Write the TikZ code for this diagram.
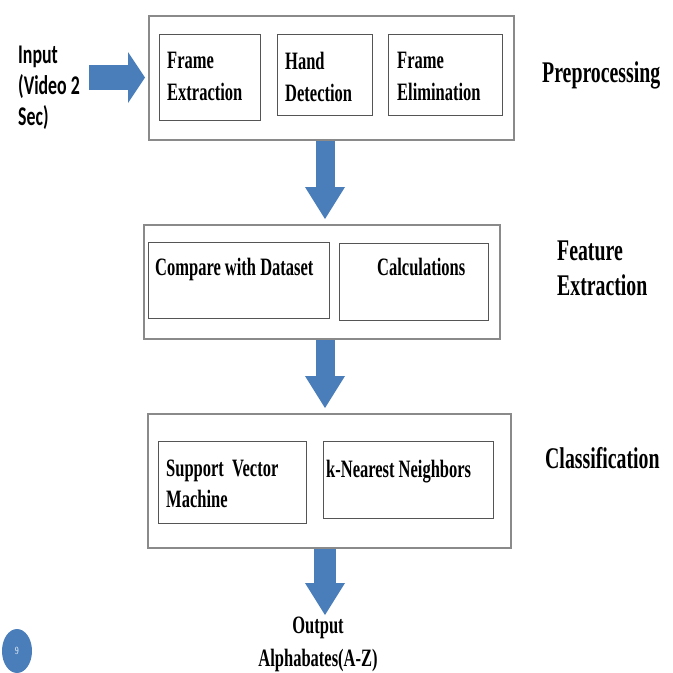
\documentclass[tikz,border=0pt]{standalone}
\usepackage{fontspec}
\setmainfont{Liberation Serif}[FakeStretch=0.66]
\newfontfamily\ingresso{Carlito}[FakeStretch=0.66]
\usepackage{tikz}
\usetikzlibrary{arrows.meta,shapes.geometric}
\definecolor{blu}{HTML}{4A7EBB}
\definecolor{grigio}{HTML}{8A8A8A}
\definecolor{grigioscuro}{HTML}{555555}

\tikzset{
    fase/.style={draw=grigio, line width=1.6pt, anchor=north west, inner sep=0pt},
    blocco/.style={draw=grigioscuro, line width=1.3pt, anchor=north west, inner sep=0pt},
    testo/.style={anchor=north west, inner sep=0pt, align=left,
        font=\fontsize{25}{32}\selectfont\bfseries},
    etichetta/.style={anchor=base west, inner sep=0pt, align=left,
        font=\fontsize{30}{35}\selectfont\bfseries},
    freccia/.style={blu, line width=19pt,
        -{Triangle[width=40pt, length=32pt, line width=0pt]}}
}

\begin{document}
\begin{tikzpicture}[x=1pt, y=-1pt]
        \useasboundingbox (0,0) rectangle (673,673);
        % Riquadri delle tre fasi
        \node[fase, minimum width=365pt, minimum height=124pt] (pre) at (148,15) {};
        \node[fase, minimum width=356pt, minimum height=114pt] (feat) at (143,224) {};
        \node[fase, minimum width=363pt, minimum height=134pt] (cla) at (147,413) {};
        % Blocchi interni: preprocessing
        \node[blocco, minimum width=101pt, minimum height=86pt] (fext) at (159,34) {};
        \node[blocco, minimum width=95pt, minimum height=81pt] (hand) at (277,34) {};
        \node[blocco, minimum width=114pt, minimum height=81pt] (felim) at (388,34) {};
        \node[testo] (tfext) at ([xshift=8pt, yshift=-18pt]fext.north west) {Frame\\Extraction};
        \node[testo] (thand) at ([xshift=8pt, yshift=-18pt]hand.north west) {Hand\\Detection};
        \node[testo] (tfelim) at ([xshift=9pt, yshift=-18pt]felim.north west) {Frame\\Elimination};
        % Blocchi interni: feature extraction
        \node[blocco, minimum width=181pt, minimum height=76pt] (cmp) at (148,242) {};
        \node[blocco, minimum width=149pt, minimum height=77pt] (calc) at (339,243) {};
        \node[testo] (tcmp) at ([xshift=7pt, yshift=-16pt]cmp.north west) {Compare with Dataset};
        \node[testo] (tcalc) at ([xshift=38pt, yshift=-15pt]calc.north west) {Calculations};
        % Blocchi interni: classificazione
        \node[blocco, minimum width=148pt, minimum height=82pt] (svm) at (158,441) {};
        \node[blocco, minimum width=170pt, minimum height=77pt] (knn) at (323,441) {};
        \node[testo, font=\fontsize{25}{31}\selectfont\bfseries] (tsvm) at ([xshift=8pt, yshift=-19pt]svm.north west) {Support~~Vector\\Machine};
        \node[testo] (tknn) at ([xshift=3pt, yshift=-19pt]knn.north west) {k-Nearest Neighbors};
        % Etichette delle fasi (base = ultima riga)
        \node[etichetta] (lpre) at (542,82) {Preprocessing};
        \node[etichetta] (lfeat) at (557,295) {Feature\\Extraction};
        \node[etichetta] (lcla) at (545,468) {Classification};
        % Ingresso e uscita
        \node[anchor=base west, inner sep=0pt, align=left,
            font=\fontsize{27}{31}\ingresso\bfseries] (inp) at (18,125) {Input\\(Video 2\\Sec)};
        \node[anchor=north, inner sep=0pt, align=center,
            font=\fontsize{25}{33}\selectfont\bfseries] (out) at (318,617) {Output\\Alphabates(A-Z)};
        % Frecce
        \coordinate (asse) at (325,0);
        \coordinate (inarr) at (89,77.5);
        \draw[freccia, line width=25pt, -{Triangle[width=51pt, length=17pt, line width=0pt]}]
        (inarr) -- ([xshift=-3pt]pre.west |- inarr);
        \foreach \da/\a in {pre/feat, feat/cla} {
                \draw[freccia] (\da.south -| asse) -- ([yshift=5pt]\a.north -| asse);
            }
        \draw[freccia, line width=22pt] (cla.south -| asse) -- ([yshift=2pt]out.north -| asse);
        % Numero di pagina
        \node[ellipse, fill=blu, minimum width=30pt, minimum height=44pt, inner sep=0pt,
            text=white, font=\fontsize{11}{11}\selectfont] (num) at (17,651) {9};
\end{tikzpicture}
\end{document}
